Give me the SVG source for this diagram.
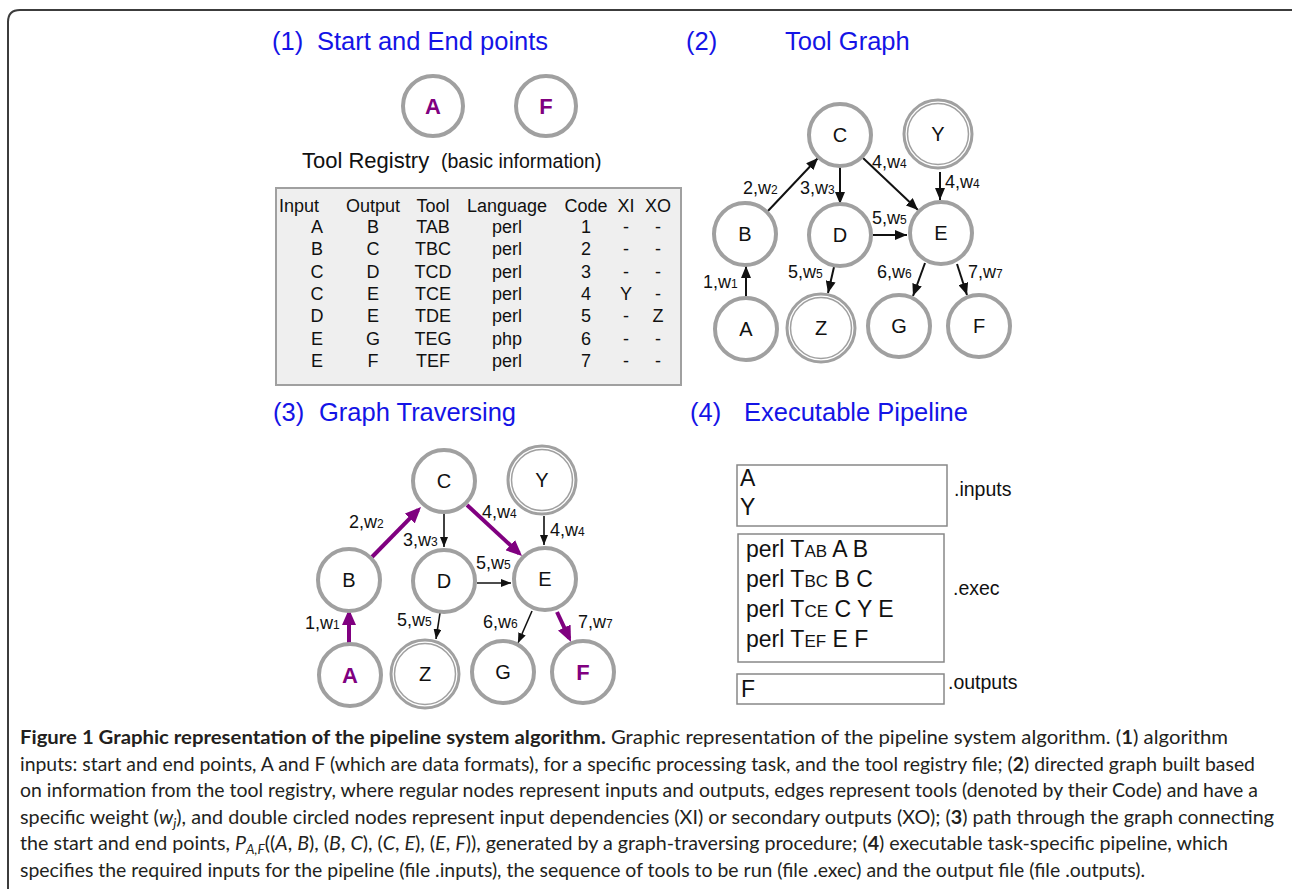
<svg xmlns="http://www.w3.org/2000/svg" width="1292" height="889" viewBox="0 0 1292 889">
<style>
.title{font-family:"Liberation Sans",Arial,sans-serif;font-size:25.5px;fill:#1414e6}
.nd{fill:#fff;stroke:#a0a0a0;stroke-width:4}
.dbo{fill:#fff;stroke:#a0a0a0;stroke-width:3}
.dbi{fill:none;stroke:#a0a0a0;stroke-width:1.5}
.lt{font-family:"Liberation Sans",Arial,sans-serif;font-size:20px;fill:#111;text-anchor:middle}
.lp{font-family:"Liberation Sans",Arial,sans-serif;font-size:22px;fill:#800080;font-weight:bold;text-anchor:middle}
.el{font-family:"Liberation Sans",Arial,sans-serif;font-size:18px;fill:#111}
.sub{font-size:12px}
.e{stroke:#111;stroke-width:2;fill:none;marker-end:url(#ab)}
.e3{stroke:#111;stroke-width:1.6;fill:none;marker-end:url(#ab3)}
.ep{stroke:#800080;stroke-width:4;fill:none;marker-end:url(#ap)}
.tb{font-family:"Liberation Sans",Arial,sans-serif;font-size:18px;fill:#111}
.tc{text-anchor:middle}
.bx{fill:#fff;stroke:#888;stroke-width:1.5}
.bt{font-family:"Liberation Sans",Arial,sans-serif;font-size:23px;fill:#111}
.sc{font-size:17px}
.bl{font-family:"Liberation Sans",Arial,sans-serif;font-size:19.5px;fill:#111}
.cap{font-family:Lato,"Noto Sans",sans-serif;font-size:19px;fill:#231f20}
</style>
<defs>
<marker id="ab" markerUnits="userSpaceOnUse" markerWidth="12" markerHeight="10" refX="12" refY="5" orient="auto"><path d="M0,0 L12,5 L0,10 z" fill="#111"/></marker>
<marker id="ab3" markerUnits="userSpaceOnUse" markerWidth="10" markerHeight="8" refX="10" refY="4" orient="auto"><path d="M0,0 L10,4 L0,8 z" fill="#111"/></marker>
<marker id="ap" markerUnits="userSpaceOnUse" markerWidth="16" markerHeight="14" refX="12" refY="7" orient="auto"><path d="M0,0 L16,7 L0,14 z" fill="#800080"/></marker>
</defs>
<rect width="1292" height="889" fill="#fff"/>
<path d="M8,889 V22 Q8,10 20,10 H1292" fill="none" stroke="#3c3c3c" stroke-width="2"/>

<!-- titles -->
<g id="titles">
<text class="title" x="272" y="50">(1)</text><text class="title" x="317" y="50">Start and End points</text>
<text class="title" x="686" y="50">(2)</text><text class="title" x="785" y="50">Tool Graph</text>
<text class="title" x="273" y="421">(3)</text><text class="title" x="319" y="421">Graph Traversing</text>
<text class="title" x="690" y="421">(4)</text><text class="title" x="744" y="421">Executable Pipeline</text>
</g>

<!-- section 1 -->
<g id="s1-A"><circle class="nd" cx="433" cy="106" r="30"/><text class="lp" x="433" y="114">A</text></g>
<g id="s1-F"><circle class="nd" cx="546" cy="106" r="30"/><text class="lp" x="546" y="114">F</text></g>
<g id="registry-title">
<text x="302" y="168" font-family="Liberation Sans, Arial, sans-serif" font-size="22" fill="#111">Tool Registry</text>
<text x="441" y="168" font-family="Liberation Sans, Arial, sans-serif" font-size="19.5" fill="#111">(basic information)</text>
</g>
<g id="registry-table">
<rect x="276" y="188" width="405" height="197" fill="#efefef" stroke="#a0a0a0" stroke-width="2"/>
<g class="tb">
<text x="279" y="212">Input</text>
<text class="tc" x="373" y="212">Output</text>
<text class="tc" x="433" y="212">Tool</text>
<text class="tc" x="507" y="212">Language</text>
<text class="tc" x="586" y="212">Code</text>
<text class="tc" x="626" y="212">XI</text>
<text class="tc" x="658" y="212">XO</text>
</g>
<g class="tb tc">
<text x="317" y="233">A</text><text x="373" y="233">B</text><text x="433" y="233">TAB</text><text x="507" y="233">perl</text><text x="586" y="233">1</text><text x="626" y="233">-</text><text x="658" y="233">-</text>
<text x="317" y="255">B</text><text x="373" y="255">C</text><text x="433" y="255">TBC</text><text x="507" y="255">perl</text><text x="586" y="255">2</text><text x="626" y="255">-</text><text x="658" y="255">-</text>
<text x="317" y="277.5">C</text><text x="373" y="277.5">D</text><text x="433" y="277.5">TCD</text><text x="507" y="277.5">perl</text><text x="586" y="277.5">3</text><text x="626" y="277.5">-</text><text x="658" y="277.5">-</text>
<text x="317" y="300">C</text><text x="373" y="300">E</text><text x="433" y="300">TCE</text><text x="507" y="300">perl</text><text x="586" y="300">4</text><text x="626" y="300">Y</text><text x="658" y="300">-</text>
<text x="317" y="322">D</text><text x="373" y="322">E</text><text x="433" y="322">TDE</text><text x="507" y="322">perl</text><text x="586" y="322">5</text><text x="626" y="322">-</text><text x="658" y="322">Z</text>
<text x="317" y="344.5">E</text><text x="373" y="344.5">G</text><text x="433" y="344.5">TEG</text><text x="507" y="344.5">php</text><text x="586" y="344.5">6</text><text x="626" y="344.5">-</text><text x="658" y="344.5">-</text>
<text x="317" y="367">E</text><text x="373" y="367">F</text><text x="433" y="367">TEF</text><text x="507" y="367">perl</text><text x="586" y="367">7</text><text x="626" y="367">-</text><text x="658" y="367">-</text>
</g>
</g>

<!-- section 2: tool graph -->
<g id="s2-connectors">
<line class="e" x1="746" y1="297" x2="746" y2="266"/>
<line class="e" x1="767" y1="212" x2="818" y2="158"/>
<line class="e" x1="840" y1="167" x2="840" y2="204"/>
<line class="e" x1="863" y1="158" x2="918" y2="210"/>
<line class="e" x1="940" y1="172" x2="940" y2="200"/>
<line class="e" x1="873" y1="235" x2="907" y2="235"/>
<line class="e" x1="834" y1="267" x2="828" y2="293"/>
<line class="e" x1="925" y1="263" x2="913" y2="296"/>
<line class="e" x1="957" y1="264" x2="967" y2="295"/>
<g class="el">
<text x="703" y="288">1,w<tspan class="sub">1</tspan></text>
<text x="743" y="194">2,w<tspan class="sub">2</tspan></text>
<text x="800" y="194">3,w<tspan class="sub">3</tspan></text>
<text x="872" y="168">4,w<tspan class="sub">4</tspan></text>
<text x="945" y="188">4,w<tspan class="sub">4</tspan></text>
<text x="872" y="224">5,w<tspan class="sub">5</tspan></text>
<text x="788" y="278">5,w<tspan class="sub">5</tspan></text>
<text x="877" y="278">6,w<tspan class="sub">6</tspan></text>
<text x="968" y="278">7,w<tspan class="sub">7</tspan></text>
</g>
</g>
<g id="s2-C"><circle class="nd" cx="840" cy="135" r="31"/><text class="lt" x="840" y="142">C</text></g>
<g id="s2-Y"><circle class="dbo" cx="938" cy="134" r="34"/><circle class="dbi" cx="938" cy="134" r="30.5"/><text class="lt" x="938" y="141">Y</text></g>
<g id="s2-B"><circle class="nd" cx="745" cy="234" r="31"/><text class="lt" x="745" y="241">B</text></g>
<g id="s2-D"><circle class="nd" cx="840" cy="235" r="31"/><text class="lt" x="840" y="242">D</text></g>
<g id="s2-E"><circle class="nd" cx="941" cy="233" r="31"/><text class="lt" x="941" y="240">E</text></g>
<g id="s2-A"><circle class="nd" cx="746" cy="329" r="31"/><text class="lt" x="746" y="336">A</text></g>
<g id="s2-Z"><circle class="dbo" cx="821" cy="328" r="34"/><circle class="dbi" cx="821" cy="328" r="30.5"/><text class="lt" x="821" y="335">Z</text></g>
<g id="s2-G"><circle class="nd" cx="899" cy="326" r="31"/><text class="lt" x="899" y="333">G</text></g>
<g id="s2-F"><circle class="nd" cx="979" cy="326" r="31"/><text class="lt" x="979" y="333">F</text></g>

<!-- section 3: graph traversing -->
<g id="s3-connectors">
<line class="ep" x1="349" y1="644" x2="349" y2="613"/>
<line class="ep" x1="372" y1="557" x2="418.2" y2="509.9"/>
<line class="e3" x1="444" y1="513" x2="444" y2="547"/>
<line class="ep" x1="467" y1="505" x2="519.1" y2="553.3"/>
<line class="e3" x1="544" y1="516" x2="544" y2="545"/>
<line class="e3" x1="477" y1="583" x2="511" y2="583"/>
<line class="e3" x1="440" y1="613" x2="436" y2="639"/>
<line class="e3" x1="532" y1="611" x2="518" y2="643"/>
<line class="ep" x1="557" y1="612" x2="569.3" y2="638.4"/>
<g class="el">
<text x="305" y="629">1,w<tspan class="sub">1</tspan></text>
<text x="349" y="528">2,w<tspan class="sub">2</tspan></text>
<text x="403" y="546">3,w<tspan class="sub">3</tspan></text>
<text x="482" y="518">4,w<tspan class="sub">4</tspan></text>
<text x="550" y="536">4,w<tspan class="sub">4</tspan></text>
<text x="476" y="569">5,w<tspan class="sub">5</tspan></text>
<text x="397" y="626">5,w<tspan class="sub">5</tspan></text>
<text x="483" y="628">6,w<tspan class="sub">6</tspan></text>
<text x="578" y="628">7,w<tspan class="sub">7</tspan></text>
</g>
</g>
<g id="s3-C"><circle class="nd" cx="444" cy="481" r="31"/><text class="lt" x="444" y="488">C</text></g>
<g id="s3-Y"><circle class="dbo" cx="542" cy="480" r="34"/><circle class="dbi" cx="542" cy="480" r="30.5"/><text class="lt" x="542" y="487">Y</text></g>
<g id="s3-B"><circle class="nd" cx="349" cy="580" r="31"/><text class="lt" x="349" y="587">B</text></g>
<g id="s3-D"><circle class="nd" cx="444" cy="581" r="31"/><text class="lt" x="444" y="588">D</text></g>
<g id="s3-E"><circle class="nd" cx="545" cy="579" r="31"/><text class="lt" x="545" y="586">E</text></g>
<g id="s3-A"><circle class="nd" cx="350" cy="675" r="31"/><text class="lp" x="350" y="683">A</text></g>
<g id="s3-Z"><circle class="dbo" cx="425" cy="674" r="34"/><circle class="dbi" cx="425" cy="674" r="30.5"/><text class="lt" x="425" y="681">Z</text></g>
<g id="s3-G"><circle class="nd" cx="503" cy="672" r="31"/><text class="lt" x="503" y="679">G</text></g>
<g id="s3-F"><circle class="nd" cx="583" cy="672" r="31"/><text class="lp" x="583" y="680">F</text></g>

<!-- section 4: executable pipeline -->
<g id="file-inputs">
<rect class="bx" x="737" y="465" width="210" height="61"/>
<text class="bt" x="740" y="486">A</text>
<text class="bt" x="740" y="515">Y</text>
<text class="bl" x="954" y="496">.inputs</text>
</g>
<g id="file-exec">
<rect class="bx" x="738" y="534" width="206" height="128"/>
<text class="bt" x="746" y="557">perl T<tspan class="sc">AB</tspan> A B</text>
<text class="bt" x="746" y="587">perl T<tspan class="sc">BC</tspan> B C</text>
<text class="bt" x="746" y="617">perl T<tspan class="sc">CE</tspan> C Y E</text>
<text class="bt" x="746" y="647">perl T<tspan class="sc">EF</tspan> E F</text>
<text class="bl" x="953" y="595">.exec</text>
</g>
<g id="file-outputs">
<rect class="bx" x="737" y="674" width="207" height="30"/>
<text class="bt" x="741" y="697">F</text>
<text class="bl" x="948" y="689">.outputs</text>
</g>

<!-- caption -->
<g id="caption" class="cap">
<text x="20" y="744" textLength="1208" lengthAdjust="spacingAndGlyphs"><tspan font-weight="bold">Figure 1 Graphic representation of the pipeline system algorithm.</tspan> Graphic representation of the pipeline system algorithm. (<tspan font-weight="bold">1</tspan>) algorithm</text>
<text x="20" y="771" textLength="1235" lengthAdjust="spacingAndGlyphs">inputs: start and end points, A and F (which are data formats), for a specific processing task, and the tool registry file; (<tspan font-weight="bold">2</tspan>) directed graph built based</text>
<text x="20" y="797" textLength="1238" lengthAdjust="spacingAndGlyphs">on information from the tool registry, where regular nodes represent inputs and outputs, edges represent tools (denoted by their Code) and have a</text>
<text x="20" y="824" textLength="1254" lengthAdjust="spacingAndGlyphs">specific weight (<tspan font-style="italic">w</tspan><tspan font-style="italic" font-size="13" dy="4">j</tspan><tspan dy="-4">), and double circled nodes represent input dependencies (XI) or secondary outputs (XO); (</tspan><tspan font-weight="bold">3</tspan>) path through the graph connecting</text>
<text x="20" y="850" textLength="1208" lengthAdjust="spacingAndGlyphs">the start and end points, <tspan font-style="italic">P</tspan><tspan font-style="italic" font-size="13" dy="4">A,F</tspan><tspan dy="-4">((</tspan><tspan font-style="italic">A</tspan>, <tspan font-style="italic">B</tspan>), (<tspan font-style="italic">B</tspan>, <tspan font-style="italic">C</tspan>), (<tspan font-style="italic">C</tspan>, <tspan font-style="italic">E</tspan>), (<tspan font-style="italic">E</tspan>, <tspan font-style="italic">F</tspan>)), generated by a graph-traversing procedure; (<tspan font-weight="bold">4</tspan>) executable task-specific pipeline, which</text>
<text x="20" y="877" textLength="1125" lengthAdjust="spacingAndGlyphs">specifies the required inputs for the pipeline (file .inputs), the sequence of tools to be run (file .exec) and the output file (file .outputs).</text>
</g>
</svg>
